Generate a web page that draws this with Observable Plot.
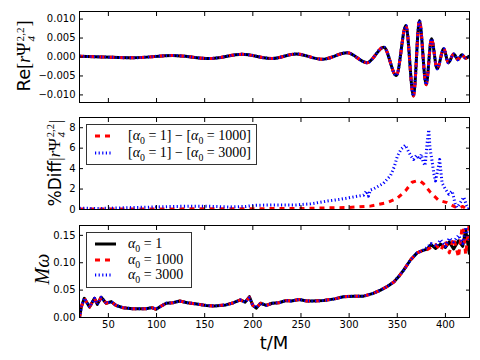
<!DOCTYPE html>
<html><head><meta charset="utf-8">
<script src="https://cdn.jsdelivr.net/npm/d3@7"></script>
<script src="https://cdn.jsdelivr.net/npm/@observablehq/plot@0.6"></script>
<style>
body{margin:0;background:#fff;}
#wrap{position:relative;width:480px;height:360px;overflow:hidden;font-family:"DejaVu Sans",sans-serif;}
#wrap svg.pl{position:absolute;left:0;}
.ylab{position:absolute;transform:translate(-50%,-50%) rotate(-90deg);white-space:nowrap;color:#000;line-height:1;}
.m{font-family:"Liberation Serif",serif;}
.m i{font-style:italic;}
.ss{display:inline-flex;flex-direction:column;font-size:62%;line-height:1;vertical-align:middle;margin:0 1px 0 1px;text-align:left;}
.legend{position:absolute;border:1px solid #333;background:#fff;box-sizing:border-box;}
.lrow{position:absolute;left:0;height:16px;display:flex;align-items:center;}
.lrow svg{position:absolute;left:8px;}
.lrow span.t{position:absolute;left:41px;white-space:nowrap;font-size:14px;}
sub{font-size:70%;line-height:0;}
</style></head>
<body><div id="wrap"></div>
<script>
// ---------- data ----------
// Panel 1: Re[r Psi4^{2,2}] (extrema)
const tRe = [20, 45, 76, 117, 155, 189, 220, 245, 272, 298, 318.7, 336, 349, 359, 366.8, 373, 380, 385.5, 391.4, 398.3, 402.9, 408.7, 413, 417, 421, 425];
const re  = [0.0002, 0.0, -0.0002, 0.0004, -0.0004, 0.0007, -0.0004, 0.0008, -0.0006, 0.0011, -0.0015, 0.0026, -0.0049, 0.0083, -0.0103, 0.0096, -0.0073, 0.0048, -0.0031, 0.0022, -0.0015, 0.0008, -0.0007, 0.0006, -0.0003, 0.0003];
const reTicks = [-0.010, -0.005, 0.0, 0.005, 0.010];

// Panel 2: % difference
const tD1000 = [20, 60, 100, 150, 200, 250, 277, 300, 322, 339.5, 350, 358.5, 365.4, 370, 374, 377.5, 384.5, 393, 401.7, 408.5, 413, 418, 422, 425];
const d1000  = [0.05, 0.05, 0.05, 0.07, 0.08, 0.1, 0.16, 0.2, 0.33, 0.67, 1.1, 1.83, 2.67, 2.8, 2.77, 2.5, 1.67, 0.9, 0.67, 0.33, 0.1, 0.3, 0.05, 0.1];
const tD3000 = [20, 40, 60, 80, 100, 120, 141.5, 160, 175, 193, 200, 220, 245, 260, 277.5, 291, 304.5, 315, 318, 320, 322, 325, 335.7, 343, 347, 350, 354, 358.5, 361, 364.3, 367, 370, 373, 375, 377, 379, 381, 382.7, 384, 386, 388, 389.7, 392, 394, 396.5, 400, 403.5, 407, 410, 412, 415, 419, 422, 424, 425];
const d3000  = [0.12, 0.1, 0.15, 0.2, 0.25, 0.3, 0.33, 0.3, 0.25, 0.3, 0.4, 0.45, 0.45, 0.55, 0.83, 1.0, 1.23, 1.4, 1.8, 1.3, 1.9, 2.0, 2.56, 3.33, 4.2, 5.2, 5.9, 6.3, 5.8, 5.2, 4.9, 5.3, 4.9, 5.4, 4.6, 4.3, 6.5, 7.8, 6.0, 4.8, 3.5, 2.8, 3.8, 4.9, 2.6, 2.0, 1.5, 1.8, 0.6, 0.2, 0.6, 1.2, 0.4, 0.1, 0.3];
const diffTicks = [0, 2, 4, 6, 8];

// Panel 3: M omega
const tW = [20, 22, 25, 30.4, 35.6, 38.5, 42.5, 47.7, 53, 58, 65, 75, 89, 95, 99.6, 104, 110, 117, 124, 132, 140, 151.5, 160, 172, 180, 187, 192, 196.5, 200, 203.5, 208, 214, 220, 227, 234.6, 240, 248, 256, 262, 273.5, 285, 294, 305, 315, 325, 332.6, 340, 346.4, 352, 356.8, 363.7, 370.6, 376, 381, 385, 390, 395, 400, 404, 408.5, 413.6, 418, 421, 425];
const w1    = [0, 0.02, 0.035, 0.019, 0.035, 0.024, 0.037, 0.026, 0.029, 0.022, 0.018, 0.016, 0.016, 0.018, 0.015, 0.02, 0.026, 0.027, 0.03, 0.027, 0.025, 0.022, 0.021, 0.023, 0.027, 0.032, 0.028, 0.038, 0.022, 0.017, 0.026, 0.022, 0.026, 0.027, 0.031, 0.03, 0.033, 0.03, 0.03, 0.031, 0.034, 0.038, 0.039, 0.039, 0.044, 0.05, 0.057, 0.065, 0.076, 0.087, 0.105, 0.118, 0.122, 0.125, 0.133, 0.126, 0.134, 0.128, 0.138, 0.125, 0.14, 0.13, 0.16, 0.115];
const w1000 = [0, 0.02, 0.035, 0.019, 0.035, 0.024, 0.037, 0.026, 0.029, 0.022, 0.018, 0.016, 0.016, 0.018, 0.015, 0.02, 0.026, 0.027, 0.03, 0.027, 0.025, 0.022, 0.021, 0.023, 0.027, 0.032, 0.028, 0.037, 0.022, 0.017, 0.026, 0.022, 0.026, 0.027, 0.031, 0.03, 0.033, 0.03, 0.03, 0.031, 0.034, 0.038, 0.039, 0.039, 0.044, 0.05, 0.057, 0.065, 0.076, 0.087, 0.105, 0.118, 0.122, 0.124, 0.128, 0.133, 0.122, 0.14, 0.118, 0.145, 0.11, 0.175, 0.115, 0.175];
const w3000 = [0, 0.02, 0.035, 0.019, 0.035, 0.024, 0.037, 0.026, 0.029, 0.022, 0.018, 0.016, 0.016, 0.018, 0.016, 0.02, 0.026, 0.027, 0.03, 0.027, 0.025, 0.022, 0.021, 0.023, 0.027, 0.032, 0.028, 0.036, 0.022, 0.018, 0.026, 0.022, 0.026, 0.027, 0.031, 0.03, 0.033, 0.03, 0.03, 0.031, 0.034, 0.038, 0.039, 0.039, 0.044, 0.05, 0.057, 0.065, 0.076, 0.087, 0.105, 0.118, 0.122, 0.128, 0.135, 0.13, 0.142, 0.13, 0.145, 0.138, 0.15, 0.135, 0.165, 0.14];
const wTicks = [0.00, 0.05, 0.10, 0.15];

const xTicks = [50, 100, 150, 200, 250, 300, 350, 400];
const xDomain = [20, 425];

// ---------- helpers ----------
const rows = (ts, vs) => ts.map((t, i) => ({t, v: vs[i]}));
const S = {
  a1:    {stroke: "#000000", strokeWidth: 3},
  a1000: {stroke: "#ff0000", strokeWidth: 3, strokeDasharray: "5,5"},
  a3000: {stroke: "#0000ff", strokeWidth: 3, strokeDasharray: "1.2,2.4"}
};
const wrap = document.getElementById("wrap");

function panel({top, height, mTop, mBottom, yDomain, yTicks, yFmt, lines, xLabels}) {
  const marks = [];
  for (const l of lines) {
    marks.push(Plot.line(l.data, {x: "t", y: "v", ...l.style, strokeLinecap: "butt", strokeLinejoin: "round", curve: l.curve || "linear", clip: true}));
  }
  marks.push(
    Plot.axisY({anchor: "left", ticks: yTicks, tickSize: -4, tickPadding: 8, tickFormat: yFmt, label: null}),
    Plot.axisY({anchor: "right", ticks: yTicks, tickSize: -4, tickFormat: () => "", label: null}),
    Plot.axisX({anchor: "top", ticks: xTicks, tickSize: -4, tickFormat: () => "", label: null}),
    Plot.axisX({anchor: "bottom", ticks: xTicks, tickSize: -4, tickPadding: 7, tickFormat: xLabels ? d3.format("d") : () => "", label: null}),
    Plot.frame({stroke: "#000", strokeWidth: 1})
  );
  const svg = Plot.plot({
    width: 480, height,
    marginLeft: 79, marginRight: 11, marginTop: mTop, marginBottom: mBottom,
    x: {domain: xDomain},
    y: {domain: yDomain},
    style: {fontFamily: "DejaVu Sans, sans-serif", fontSize: "10px", color: "#000", background: "transparent", overflow: "visible"},
    marks
  });
  svg.classList.add("pl");
  svg.style.top = top + "px";
  wrap.appendChild(svg);
}

panel({top: 0, height: 106, mTop: 11, mBottom: 4, yDomain: [-0.012, 0.012], yTicks: reTicks, yFmt: d3.format(".3f"),
  lines: [
    {data: rows(tRe, re), style: S.a1, curve: "monotone-x"},
    {data: rows(tRe, re), style: S.a1000, curve: "monotone-x"},
    {data: rows(tRe, re), style: S.a3000, curve: "monotone-x"}
  ]});

panel({top: 110, height: 104, mTop: 7, mBottom: 5, yDomain: [0, 9], yTicks: diffTicks, yFmt: d3.format("d"),
  lines: [
    {data: rows(tD1000, d1000), style: S.a1000},
    {data: rows(tD3000, d3000), style: S.a3000}
  ]});

panel({top: 214, height: 146, mTop: 11, mBottom: 43, yDomain: [0, 0.168], yTicks: wTicks, yFmt: d3.format(".2f"), xLabels: true,
  lines: [
    {data: rows(tW, w1), style: S.a1},
    {data: rows(tW, w1000), style: S.a1000},
    {data: rows(tW, w3000), style: S.a3000}
  ]});

// ---------- text overlays ----------
function addHTML(html) { wrap.insertAdjacentHTML("beforeend", html); }
const psi = `<span class="m"><i>r</i>&#936;<span class="ss"><span>2,2</span><span><i>4</i></span></span></span>`;
addHTML(`<div class="ylab" style="left:26px;top:56px;font-size:18px;">Re<span class="m">[</span>${psi}<span class="m">]</span></div>`);
addHTML(`<div class="ylab" style="left:57px;top:163px;font-size:17px;">%Diff<span class="m">|</span>${psi}<span class="m">|</span></div>`);
addHTML(`<div class="ylab m" style="left:42px;top:269px;font-size:20px;"><i>M&#969;</i></div>`);
addHTML(`<div style="position:absolute;left:274px;top:343px;transform:translate(-50%,-50%);font-size:18px;line-height:1;">t/M</div>`);

function sample(style) {
  return `<svg width="24" height="6"><line x1="0" y1="3" x2="${style === S.a1 ? 21 : 16}" y2="3" stroke="${style.stroke}" stroke-width="3" stroke-linecap="butt" ${style.strokeDasharray ? `stroke-dasharray="${style.strokeDasharray}"` : ""}/></svg>`;
}
const a0 = `<i>&#945;</i><sub>0</sub>`;
addHTML(`<div class="legend" style="left:86px;top:124px;width:171px;height:41px;">
  <div class="lrow" style="top:3px;">${sample(S.a1000)}<span class="t m">[${a0} = 1] &#8722; [${a0} = 1000]</span></div>
  <div class="lrow" style="top:20px;">${sample(S.a3000)}<span class="t m">[${a0} = 1] &#8722; [${a0} = 3000]</span></div>
</div>`);
addHTML(`<div class="legend" style="left:86px;top:232px;width:106px;height:56px;">
  <div class="lrow" style="top:3px;">${sample(S.a1)}<span class="t m">${a0} = 1</span></div>
  <div class="lrow" style="top:19px;">${sample(S.a1000)}<span class="t m">${a0} = 1000</span></div>
  <div class="lrow" style="top:34px;">${sample(S.a3000)}<span class="t m">${a0} = 3000</span></div>
</div>`);
</script>
</body></html>
